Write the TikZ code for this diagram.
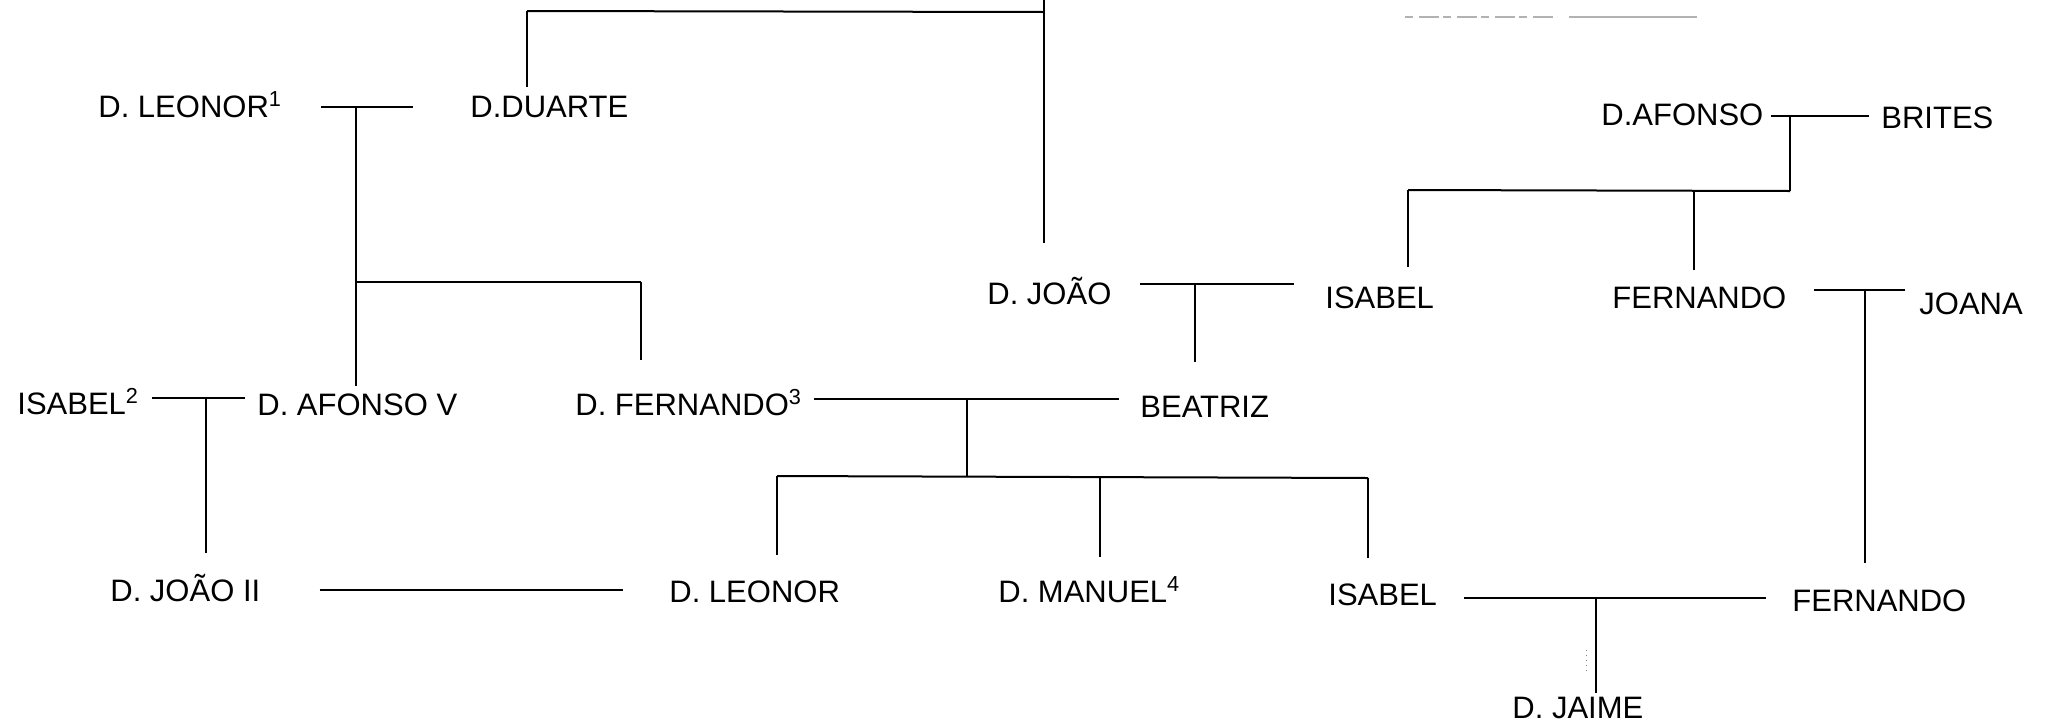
\documentclass[tikz,border=0pt]{standalone}
\usepackage{fontspec}
\setmainfont{Liberation Sans}
\begin{document}
\begin{tikzpicture}[x=0.5pt,y=-0.5pt,
  person/.style={anchor=base west, inner sep=0pt, text height=11.5pt, text depth=0pt, font=\fontsize{15.5}{18}\selectfont},
  couple/.style={line width=1pt},
  bar/.style={line width=1pt},
  kin/.style={line width=0.6pt},
  noise/.style={gray!60, line width=0.6pt}]
\useasboundingbox (0,0) rectangle (2046,724);
% people
\node[person] (leonor1) at (98,117) {D. LEONOR\textsuperscript{1}};
\node[person] (duarte) at (470,117) {D.DUARTE};
\node[person] (dafonso) at (1601,125) {D.AFONSO};
\node[person] (brites) at (1881,128) {BRITES};
\node[person] (joao) at (987,304) {D. JOÃO};
\node[person] (isabelA) at (1325,308) {ISABEL};
\node[person] (fernandoA) at (1612,308) {FERNANDO};
\node[person] (joana) at (1919,314) {JOANA};
\node[person] (isabel2) at (17,414) {ISABEL\textsuperscript{2}};
\node[person] (afonsoV) at (257,415) {D. AFONSO V};
\node[person] (fernando3) at (575,415) {D. FERNANDO\textsuperscript{3}};
\node[person] (beatriz) at (1140,417) {BEATRIZ};
\node[person] (joaoII) at (110,601) {D. JOÃO II};
\node[person] (leonor) at (669,602) {D. LEONOR};
\node[person] (manuel) at (998,602) {D. MANUEL\textsuperscript{4}};
\node[person] (isabelB) at (1328,605) {ISABEL};
\node[person] (fernandoB) at (1792,611) {FERNANDO};
\node[person] (jaime) at (1512,718) {D. JAIME};
% junctions
\coordinate (t1) at (527,11);
\coordinate (t2) at (1044,12);
\coordinate (tp) at (1044,0);
\coordinate (m1) at (356,107);
\coordinate (s1) at (641,282);
\coordinate (m2) at (1195,284);
\coordinate (m3) at (1790,116);
\coordinate (s3) at (1790,191);
\coordinate (s3a) at (1408,190);
\coordinate (s3b) at (1694,191);
\coordinate (m4) at (1865,290);
\coordinate (m5) at (206,398);
\coordinate (m6) at (967,399);
\coordinate (s6) at (967,477);
\coordinate (s6a) at (777,476);
\coordinate (s6b) at (1100,477);
\coordinate (s6c) at (1368,478);
\coordinate (m7) at (1596,598);
% top sibling bracket
\draw[kin, shorten >=3.5pt] (t1) -- (t1 |- duarte.north);
\draw[bar] (t1) -- (t2);
\draw[kin, shorten >=19pt] (tp) -- (tp |- joao.north);
% D. Leonor - D. Duarte
\draw[couple, shorten <=19.5pt, shorten >=28.5pt] (leonor1.east |- m1) -- (duarte.west |- m1);
\draw[kin, shorten >=3pt] (m1) -- (m1 |- afonsoV.north);
\draw[bar] (m1 |- s1) -- (s1);
\draw[kin, shorten >=16pt] (s1) -- (s1 |- fernando3.north);
% D. Joao - Isabel
\draw[couple, shorten <=14pt, shorten >=15.5pt] (joao.east |- m2) -- (isabelA.west |- m2);
\draw[kin, shorten >=16pt] (m2) -- (m2 |- beatriz.north);
% D. Afonso - Brites
\draw[couple, shorten <=3.5pt, shorten >=6pt] (dafonso.east |- m3) -- (brites.west |- m3);
\draw[kin] (m3) -- (s3);
\draw[bar] (s3a) -- (s3);
\draw[kin, shorten >=9pt] (s3a) -- (s3a |- isabelA.north);
\draw[kin, shorten >=7.5pt] (s3b) -- (s3b |- fernandoA.north);
% Fernando - Joana
\draw[couple, shorten <=13.5pt, shorten >=7pt] (fernandoA.east |- m4) -- (joana.west |- m4);
\draw[kin, shorten >=12.5pt] (m4) -- (m4 |- fernandoB.north);
% Isabel - D. Afonso V
\draw[couple, shorten <=6.5pt, shorten >=6pt] (isabel2.east |- m5) -- (afonsoV.west |- m5);
\draw[kin, shorten >=12.5pt] (m5) -- (m5 |- joaoII.north);
% D. Fernando - Beatriz
\draw[couple, shorten <=6pt, shorten >=10.5pt] (fernando3.east |- m6) -- (beatriz.west |- m6);
\draw[kin] (m6) -- (s6);
\draw[bar] (s6a) -- (s6c);
\draw[kin, shorten >=12pt] (s6a) -- (s6a |- leonor.north);
\draw[kin, shorten >=11pt] (s6b) -- (s6b |- manuel.north);
\draw[kin, shorten >=12pt] (s6c) -- (s6c |- isabelB.north);
% D. Joao II - D. Leonor
\draw[couple, shorten <=29.5pt, shorten >=23pt] (joaoII.east) -- (joaoII.east -| leonor.west);
% Isabel - Fernando
\draw[couple, shorten <=13.5pt, shorten >=13pt] (isabelB.east |- m7) -- (fernandoB.west |- m7);
\draw[kin, shorten >=1pt] (m7) -- (m7 |- jaime.north);
% scan marks
\draw[noise, dash pattern=on 4pt off 3pt on 10pt off 2pt] (1405,17) -- (1557,17);
\draw[noise] (1569,17) -- (1697,17);
\draw[gray, line width=0.5pt, dotted] (1586,650) -- (1586,672);
\end{tikzpicture}
\end{document}
